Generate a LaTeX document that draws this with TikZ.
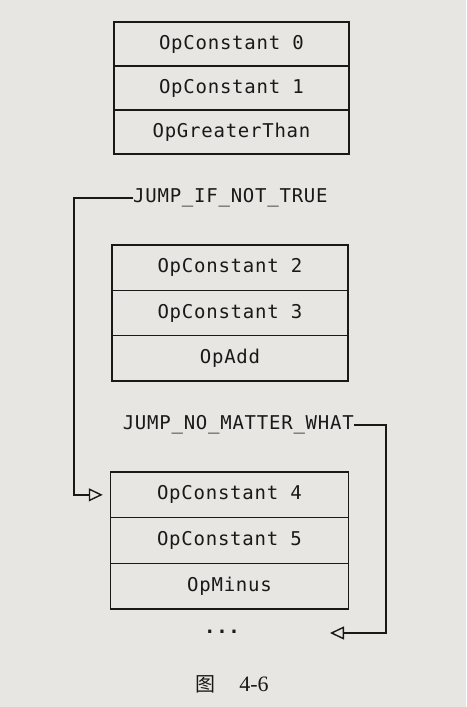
\documentclass[tikz,border=0pt]{standalone}
\usepackage{fontspec}
\newfontfamily\mono[LetterSpace=4]{DejaVu Sans Mono}
\newfontfamily\cjk{Noto Sans CJK SC}
\newfontfamily\capfont{Liberation Serif}
\usetikzlibrary{arrows.meta}
\definecolor{paper}{RGB}{231,230,227}
\definecolor{ink}{RGB}{25,25,25}
\begin{document}
\begin{tikzpicture}[x=1pt,y=-1pt,
  cell/.style={draw=ink,line width=1.5pt,inner sep=0pt,font=\mono\fontsize{19}{21}\selectfont,text=ink},
  lbl/.style={inner sep=0pt,font=\mono\fontsize{19}{21}\selectfont,text=ink},
  conn/.style={draw=ink,line width=1.4pt,-{Triangle[open,length=14pt,width=13pt,line width=1.4pt]}}]
\fill[paper] (0,0) rectangle (466,707);
\useasboundingbox (0,0) rectangle (466,707);
% box 1
\begin{scope}[every node/.append style={minimum width=235pt,minimum height=44pt}]
\node[cell] (c0) at (231.5,44) {OpConstant 0};
\node[cell] (c1) at (231.5,88) {OpConstant 1};
\node[cell] (gt) at (231.5,132) {OpGreaterThan};
\end{scope}
% box 2
\begin{scope}[every node/.append style={minimum width=236pt,minimum height=45.33pt}]
\node[cell] (c2) at (230,267.67) {OpConstant 2};
\node[cell] (c3) at (230,313) {OpConstant 3};
\node[cell] (add) at (230,358.33) {OpAdd};
\end{scope}
% box 3
\begin{scope}[every node/.append style={minimum width=238pt,minimum height=45.67pt}]
\node[cell] (c4) at (229.5,494.83) {OpConstant 4};
\node[cell] (c5) at (229.5,540.5) {OpConstant 5};
\node[cell] (mi) at (229.5,586.17) {OpMinus};
\end{scope}
% labels
\node[lbl,anchor=west] (jif) at (133,198) {JUMP\_IF\_NOT\_TRUE};
\node[lbl,anchor=east] (jnm) at (354,425) {JUMP\_NO\_MATTER\_WHAT};
\node[lbl,font=\mono\bfseries\fontsize{19}{21}\selectfont] (dots) at (222,632) {...};
\node[inner sep=0pt,text=ink] (cap) at (232,684) {{\cjk\fontsize{20}{22}\selectfont 图}\hspace{24pt}{\capfont\fontsize{22}{24}\selectfont 4-6}};
% connectors
\coordinate (L) at (74,198);
\coordinate (R) at (386,425);
\coordinate (T) at (330,633);
\draw[conn,shorten >=7pt] (jif.west) -- (L) |- (c4.west);
\draw[conn] (jnm.east) -- (R) |- (T);
\end{tikzpicture}
\end{document}
